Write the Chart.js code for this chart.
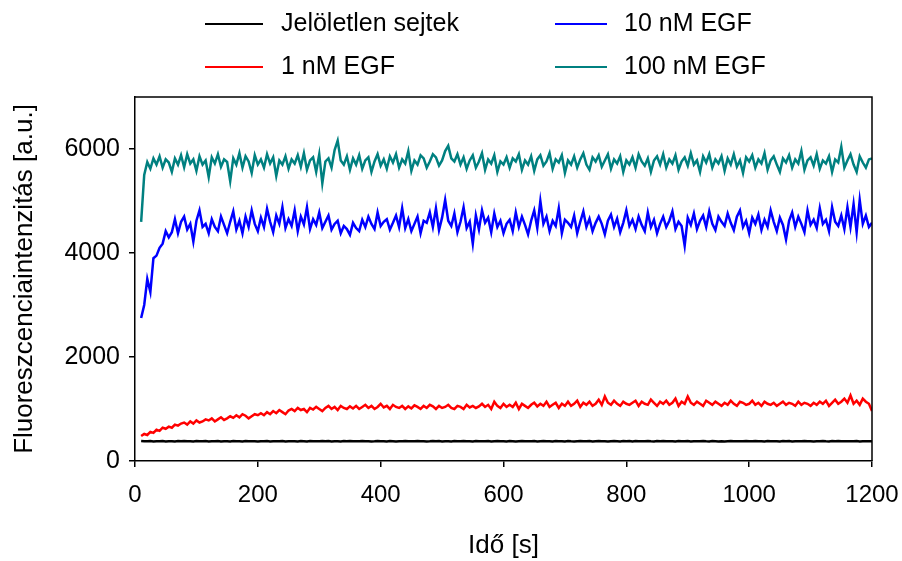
<!DOCTYPE html>
<html><head><meta charset="utf-8">
<script src="https://cdn.jsdelivr.net/npm/chart.js@4/dist/chart.umd.min.js"></script>
<style>html,body{margin:0;padding:0;background:#fff}#wrap{width:902px;height:561px}</style>
</head><body><div id="wrap"><canvas id="c" width="902" height="561"></canvas></div>
<script>
// Time points [s]
const times = [
10,15,20,25,30,35,40,45,50,55,
60,65,70,75,80,85,90,95,100,105,
110,115,120,125,130,135,140,145,150,155,
160,165,170,175,180,185,190,195,200,205,
210,215,220,225,230,235,240,245,250,255,
260,265,270,275,280,285,290,295,300,305,
310,315,320,325,330,335,340,345,350,355,
360,365,370,375,380,385,390,395,400,405,
410,415,420,425,430,435,440,445,450,455,
460,465,470,475,480,485,490,495,500,505,
510,515,520,525,530,535,540,545,550,555,
560,565,570,575,580,585,590,595,600,605,
610,615,620,625,630,635,640,645,650,655,
660,665,670,675,680,685,690,695,700,705,
710,715,720,725,730,735,740,745,750,755,
760,765,770,775,780,785,790,795,800,805,
810,815,820,825,830,835,840,845,850,855,
860,865,870,875,880,885,890,895,900,905,
910,915,920,925,930,935,940,945,950,955,
960,965,970,975,980,985,990,995,1000,1005,
1010,1015,1020,1025,1030,1035,1040,1045,1050,1055,
1060,1065,1070,1075,1080,1085,1090,1095,1100,1105,
1110,1115,1120,1125,1130,1135,1140,1145,1150,1155,
1160,1165,1170,1175,1180,1185,1190,1195,1200];

const unlabeledCells = [
385,380,378,383,376,381,379,384,377,382,
380,376,383,379,385,378,381,377,384,380,
378,383,376,381,379,385,377,382,380,376,
383,379,381,377,384,380,378,382,376,381,
379,384,377,380,382,378,385,376,381,379,
382,377,383,380,376,384,379,381,378,383,
380,385,377,382,379,376,383,380,384,378,
381,378,384,379,382,377,380,385,378,382,
377,383,380,376,382,379,384,378,381,380,
384,379,382,377,380,385,378,383,376,381,
380,376,383,381,378,384,379,382,377,385,
378,382,379,384,376,381,383,378,380,377,
383,380,377,382,385,378,381,379,384,376,
381,384,378,380,377,383,379,382,376,384,
379,377,382,385,380,378,384,377,381,383,
382,379,376,381,384,380,377,383,379,385,
377,383,380,378,382,385,379,376,384,380,
384,378,382,380,376,383,381,379,385,377,
380,382,379,384,378,377,383,380,376,382,
376,381,385,379,382,380,378,384,381,379,
383,378,380,377,384,381,379,382,376,383,
379,385,377,382,380,378,384,379,381,377,
382,380,384,378,376,383,380,385,379,382,
378,381,379,384,377,382,380,378,381];

const egf10 = [
2750,3000,3500,3250,3900,3950,4100,4180,4420,4300,
4400,4650,4380,4600,4700,4450,4560,4220,4620,4820,
4500,4560,4380,4650,4500,4420,4700,4540,4380,4600,
4800,4450,4620,4380,4700,4500,4820,4560,4420,4680,
4500,4850,4600,4400,4720,4560,4880,4480,4650,4520,
4820,4420,4700,4550,4880,4460,4650,4540,4780,4480,
4600,4720,4450,4560,4620,4380,4520,4460,4350,4580,
4480,4420,4640,4500,4700,4560,4460,4780,4520,4600,
4650,4450,4580,4720,4500,4860,4480,4650,4420,4560,
4700,4380,4620,4580,4780,4500,4860,4440,4680,5020,
4620,4520,4760,4400,4600,4880,4480,4600,4180,4720,
4450,4820,4580,4680,4400,4760,4500,4620,4380,4560,
4640,4420,4780,4500,4700,4540,4360,4620,4820,4480,
5000,4560,4700,4420,4620,4520,4860,4380,4640,4580,
4500,4720,4380,4600,4800,4500,4660,4420,4580,4700,
4560,4360,4620,4740,4500,4660,4400,4580,4820,4520,
4640,4460,4700,4540,4420,4780,4500,4640,4380,4560,
4700,4500,4620,4800,4460,4600,4520,4140,4680,4540,
4760,4460,4620,4720,4500,4800,4560,4440,4700,4600,
4520,4760,4580,4440,4700,4820,4500,4620,4380,4680,
4560,4740,4440,4640,4500,4820,4600,4420,4680,4540,
4260,4620,4780,4500,4700,4560,4400,4820,4540,4640,
4480,4860,4560,4640,4420,4880,4600,4520,4720,4460,
4880,4500,4940,4400,5020,4560,4720,4500,4580];

const egf1 = [
480,520,500,560,540,600,580,640,620,660,
640,700,680,720,740,700,760,720,780,740,
760,800,780,820,760,800,840,790,820,860,
830,880,840,900,870,820,860,900,880,920,
880,940,900,960,920,980,940,900,970,1000,
960,1020,980,1000,940,1020,990,1040,1000,960,
1020,1060,1000,1040,980,1060,1020,1000,1050,1010,
1060,1000,1040,1080,1020,1060,1000,1040,1100,1030,
1060,1000,1080,1040,1020,1060,1000,1050,1010,1070,
1040,1000,1060,1020,1080,1050,1000,1060,1020,1040,
1080,1020,1000,1060,1040,1000,1080,1030,1060,1020,
1050,1100,1040,1080,1000,1140,1060,1020,1100,1040,
1080,1040,1120,1000,1100,1060,1020,1080,1120,1050,
1100,1060,1140,1040,1080,1120,1020,1100,1060,1140,
1060,1100,1160,1040,1120,1080,1140,1060,1100,1180,
1080,1240,1120,1080,1160,1100,1060,1140,1100,1080,
1120,1160,1060,1140,1100,1080,1180,1120,1060,1140,
1100,1160,1080,1120,1200,1060,1140,1100,1240,1120,
1080,1140,1100,1060,1160,1120,1080,1140,1100,1060,
1120,1080,1160,1100,1060,1140,1120,1080,1100,1160,
1080,1120,1060,1140,1100,1080,1120,1060,1100,1140,
1080,1120,1100,1060,1140,1080,1120,1100,1060,1120,
1080,1140,1100,1160,1060,1120,1180,1100,1140,1200,
1120,1260,1100,1160,1080,1200,1140,1100,960];

const egf100 = [
4600,5500,5750,5620,5820,5700,5860,5640,5800,5740,
5560,5820,5700,5880,5650,5900,5720,5800,5580,5860,
5700,5780,5460,5840,5720,5900,5660,5800,5750,5380,
5820,5700,5920,5640,5860,5760,5540,5880,5700,5800,
5640,5900,5720,5840,5480,5780,5700,5860,5620,5800,
5720,5880,5660,5920,5600,5780,5840,5560,5900,5340,
5760,5820,5640,5980,6160,5780,5700,5860,5600,5820,
5700,5880,5620,5780,5840,5560,5760,5900,5680,5800,
5620,5860,5740,5900,5640,5800,5720,5960,5580,5780,
5700,5880,5820,5640,5760,5900,5840,5680,5780,5960,
6060,5820,5760,5900,5700,5840,5620,5780,5880,5640,
5760,5920,5600,5800,5720,5880,5560,5760,5700,5840,
5640,5820,5760,5900,5600,5780,5700,5860,5580,5800,
5880,5680,5760,5920,5620,5800,5740,5880,5540,5780,
5700,5860,5640,5800,5920,5700,5600,5840,5760,5880,
5660,5780,5900,5620,5800,5720,5860,5560,5780,5700,
5840,5640,5900,5760,5680,5820,5560,5780,5860,5700,
5900,5640,5800,5720,5880,5600,5760,5840,5680,5920,
5700,5780,5560,5860,5740,5900,5640,5800,5720,5860,
5580,5820,5700,5900,5660,5780,5540,5840,5760,5880,
5640,5800,5720,5920,5600,5780,5860,5700,5560,5820,
5740,5880,5640,5800,5720,5960,5600,5780,5840,5680,
5900,5620,5780,5720,5860,5560,5800,5740,6040,5640,
5780,5900,5700,5560,5860,5740,5640,5800,5820];

const seriesNames = ['Jelöletlen sejtek', '10 nM EGF', '1 nM EGF', '100 nM EGF'];
const seriesColors = ['#000000', '#0000FF', '#FF0000', '#008080'];
const seriesValues = [unlabeledCells, egf10, egf1, egf100];
const xTickValues = [0, 200, 400, 600, 800, 1000, 1200];
const yTickValues = [0, 2000, 4000, 6000];
const xTitle = 'Idő [s]';
const yTitle = 'Fluoreszcenciaintenzitás [a.u.]';

const FONT = "'Liberation Sans', Arial, sans-serif";

const datasets = seriesValues.map((vals, i) => ({
  label: seriesNames[i],
  data: times.map((t, j) => ({x: t, y: vals[j]})),
  borderColor: seriesColors[i],
  backgroundColor: seriesColors[i],
  borderWidth: 2.5,
  pointRadius: 0,
  tension: 0,
  fill: false
}));

const legendPlugin = {
  id: 'customLegend',
  afterDraw(chart) {
    const ctx = chart.ctx;
    const slots = [[205, 263, 281, 24], [555, 607, 624, 24], [205, 263, 281, 67], [555, 607, 624, 67]];
    ctx.save();
    ctx.font = '25px ' + FONT;
    ctx.textBaseline = 'middle';
    ctx.textAlign = 'left';
    chart.data.datasets.forEach((ds, i) => {
      const s = slots[i];
      ctx.strokeStyle = ds.borderColor;
      ctx.lineWidth = 2;
      ctx.beginPath();
      ctx.moveTo(s[0], s[3]);
      ctx.lineTo(s[1], s[3]);
      ctx.stroke();
      ctx.fillStyle = '#000';
      ctx.fillText(ds.label, s[2], s[3]);
    });
    ctx.restore();
  }
};

const framePlugin = {
  id: 'frame',
  afterDraw(chart) {
    const a = chart.chartArea, ctx = chart.ctx;
    ctx.save();
    ctx.strokeStyle = '#000';
    ctx.lineWidth = 1.5;
    ctx.beginPath();
    ctx.moveTo(a.left, a.top);
    ctx.lineTo(a.right, a.top);
    ctx.lineTo(a.right, a.bottom);
    ctx.stroke();
    ctx.restore();
  }
};

const plain = v => String(v);

new Chart(document.getElementById('c'), {
  type: 'line',
  data: {datasets},
  plugins: [legendPlugin, framePlugin],
  options: {
    responsive: false,
    animation: false,
    devicePixelRatio: 1,
    layout: {padding: {top: 97, right: 30, left: 0, bottom: 0}},
    plugins: {legend: {display: false}, tooltip: {enabled: false}},
    scales: {
      x: {
        type: 'linear', min: 0, max: 1200,
        afterBuildTicks: s => { s.ticks = xTickValues.map(v => ({value: v})); },
        afterFit: s => { s.height = 100; s.paddingLeft = 0; s.paddingRight = 0; },
        ticks: {font: {family: FONT, size: 24}, color: '#000', padding: 14, maxRotation: 0, autoSkip: false, callback: plain},
        grid: {drawOnChartArea: false, drawTicks: true, tickLength: 6, color: '#000', lineWidth: 1.5},
        border: {display: true, color: '#000', width: 1.5},
        title: {display: true, text: xTitle, font: {family: FONT, size: 26}, color: '#000', padding: 0}
      },
      y: {
        type: 'linear', min: 0, max: 7000,
        afterBuildTicks: s => { s.ticks = yTickValues.map(v => ({value: v})); },
        afterFit: s => { s.width = 135; s.paddingTop = 0; s.paddingBottom = 0; },
        ticks: {font: {family: FONT, size: 25}, color: '#000', padding: 9, callback: plain},
        grid: {drawOnChartArea: false, drawTicks: true, tickLength: 6, color: '#000', lineWidth: 1.5},
        border: {display: true, color: '#000', width: 1.5},
        title: {display: true, text: yTitle, font: {family: FONT, size: 26}, color: '#000', padding: {top: 9, bottom: 0}}
      }
    }
  }
});
</script>
</body></html>
